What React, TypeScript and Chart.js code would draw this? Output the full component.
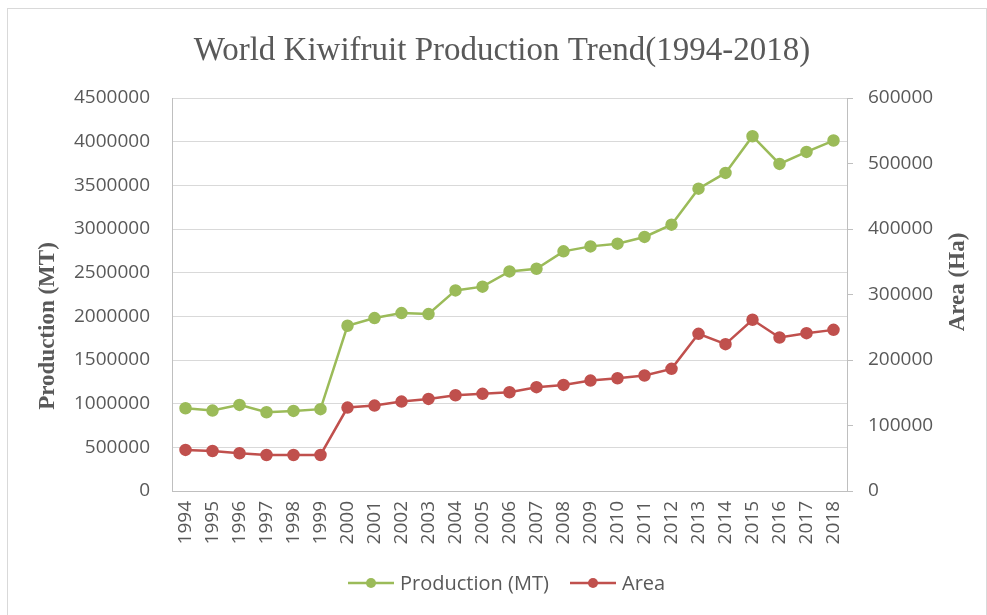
import React, { useEffect, useRef } from "react";
import { Chart, registerables } from "chart.js";

Chart.register(...registerables);

// World kiwifruit production (metric tonnes) and harvested area (hectares), 1994-2018
const years: string[] = [
  "1994", "1995", "1996", "1997", "1998", "1999", "2000", "2001", "2002",
  "2003", "2004", "2005", "2006", "2007", "2008", "2009", "2010", "2011",
  "2012", "2013", "2014", "2015", "2016", "2017", "2018",
];

const production: number[] = [
  948000, 921000, 986000, 902000, 917000, 937000, 1892000, 1980000, 2037000,
  2026000, 2297000, 2340000, 2514000, 2545000, 2744000, 2801000, 2832000,
  2909000, 3050000, 3462000, 3642000, 4062000, 3745000, 3883000, 4013000,
];

const area: number[] = [
  62700, 61100, 57600, 55000, 55000, 55000, 127400, 130400, 136500, 140600,
  146200, 148300, 150800, 158500, 162000, 168600, 172200, 176300, 186500,
  240000, 224200, 261400, 234400, 241000, 246000,
];

const titleText = "World Kiwifruit Production Trend(1994-2018)";
const leftAxisTitle = "Production (MT)";
const rightAxisTitle = "Area (Ha)";
const seriesNames: string[] = ["Production (MT)", "Area"];

const GREEN = "#9BBB59";
const RED = "#C0504D";
const TEXT = "#595959";
const AXIS = "#BFBFBF";
const GRID = "#D9D9D9";

const W = 987;
const H = 615;

// Draws the chart title, the rotated axis titles and the marker legend.
const decorations = {
  id: "decorations",
  afterDraw(chart: Chart) {
    const ctx = chart.ctx;
    ctx.save();
    ctx.fillStyle = TEXT;

    ctx.font = '33px "Liberation Serif"';
    ctx.textAlign = "center";
    ctx.textBaseline = "alphabetic";
    ctx.fillText(titleText, 502, 60);

    ctx.font = 'bold 23px "Liberation Serif"';
    ctx.textBaseline = "middle";
    ctx.save();
    ctx.translate(48, 326);
    ctx.rotate(-Math.PI / 2);
    ctx.fillText(leftAxisTitle, 0, 0);
    ctx.restore();
    ctx.save();
    ctx.translate(958, 282);
    ctx.rotate(-Math.PI / 2);
    ctx.fillText(rightAxisTitle, 0, 0);
    ctx.restore();

    // legend entries: line with a centred marker, then the series name
    const entries = [
      { x: 348, color: GREEN, label: seriesNames[0] },
      { x: 570, color: RED, label: seriesNames[1] },
    ];
    const ly = 583;
    ctx.font = '20px "Open Sans"';
    ctx.textAlign = "left";
    for (const e of entries) {
      ctx.strokeStyle = e.color;
      ctx.lineWidth = 2.5;
      ctx.beginPath();
      ctx.moveTo(e.x, ly);
      ctx.lineTo(e.x + 46, ly);
      ctx.stroke();
      ctx.fillStyle = e.color;
      ctx.beginPath();
      ctx.arc(e.x + 23, ly, 5, 0, Math.PI * 2);
      ctx.fill();
      ctx.fillStyle = TEXT;
      ctx.fillText(e.label, e.x + 52, ly + 1);
    }
    ctx.restore();
  },
};

export default function App() {
  const canvasRef = useRef<HTMLCanvasElement | null>(null);

  useEffect(() => {
    let chart: Chart | null = null;
    let cancelled = false;

    const build = () => {
      if (cancelled || !canvasRef.current) return;
      chart = new Chart(canvasRef.current, {
        type: "line",
        data: {
          labels: years,
          datasets: [
            {
              label: seriesNames[0],
              data: production,
              yAxisID: "y",
              borderColor: GREEN,
              backgroundColor: GREEN,
              pointBackgroundColor: GREEN,
              pointBorderColor: GREEN,
              borderWidth: 2.5,
              pointRadius: 5,
              tension: 0,
            },
            {
              label: seriesNames[1],
              data: area,
              yAxisID: "y1",
              borderColor: RED,
              backgroundColor: RED,
              pointBackgroundColor: RED,
              pointBorderColor: RED,
              borderWidth: 2.5,
              pointRadius: 5,
              tension: 0,
            },
          ],
        },
        options: {
          responsive: false,
          animation: false,
          devicePixelRatio: 1,
          layout: { padding: { top: 98, left: 0, right: 0, bottom: 0 } },
          plugins: {
            legend: { display: false },
            title: { display: false },
            tooltip: { enabled: false },
          },
          scales: {
            x: {
              offset: true,
              grid: { display: false, drawTicks: false },
              border: { display: true, color: AXIS, width: 1 },
              ticks: {
                color: TEXT,
                font: { family: '"Open Sans"', size: 19 },
                minRotation: 90,
                maxRotation: 90,
                autoSkip: false,
                padding: 10,
              },
              afterFit(scale: any) {
                scale.height = 124;
              },
            },
            y: {
              position: "left",
              min: 0,
              max: 4500000,
              grid: { color: GRID, lineWidth: 1, drawTicks: false },
              border: { display: true, color: AXIS, width: 1 },
              ticks: {
                stepSize: 500000,
                color: TEXT,
                font: { family: '"Open Sans"', size: 19 },
                padding: 22,
                callback: (v: any) => String(v),
              },
              afterFit(scale: any) {
                scale.width = 172;
              },
            },
            y1: {
              position: "right",
              min: 0,
              max: 600000,
              grid: {
                drawOnChartArea: false,
                drawTicks: true,
                tickLength: 6,
                color: AXIS,
              },
              border: { display: true, color: AXIS, width: 1 },
              ticks: {
                stepSize: 100000,
                color: TEXT,
                font: { family: '"Open Sans"', size: 19 },
                padding: 15,
                callback: (v: any) => String(v),
              },
              afterFit(scale: any) {
                scale.width = 140;
              },
            },
          },
        },
        plugins: [decorations],
      });
    };

    const fonts = [
      '33px "Liberation Serif"',
      'bold 23px "Liberation Serif"',
      '20px "Open Sans"',
      '19px "Open Sans"',
    ];
    Promise.all(fonts.map((f) => document.fonts.load(f)))
      .catch(() => undefined)
      .then(build);

    return () => {
      cancelled = true;
      if (chart) chart.destroy();
    };
  }, []);

  return (
    <div style={{ position: "fixed", left: 0, top: 0, width: W, height: H, background: "#fff", overflow: "hidden" }}>
      <div
        style={{
          position: "absolute",
          left: 7,
          top: 8,
          width: W - 7,
          height: H,
          border: "1px solid #D9D9D9",
          boxSizing: "border-box",
        }}
      />
      <canvas ref={canvasRef} width={W} height={H} style={{ position: "absolute", left: 0, top: 0, width: W, height: H }} />
    </div>
  );
}
